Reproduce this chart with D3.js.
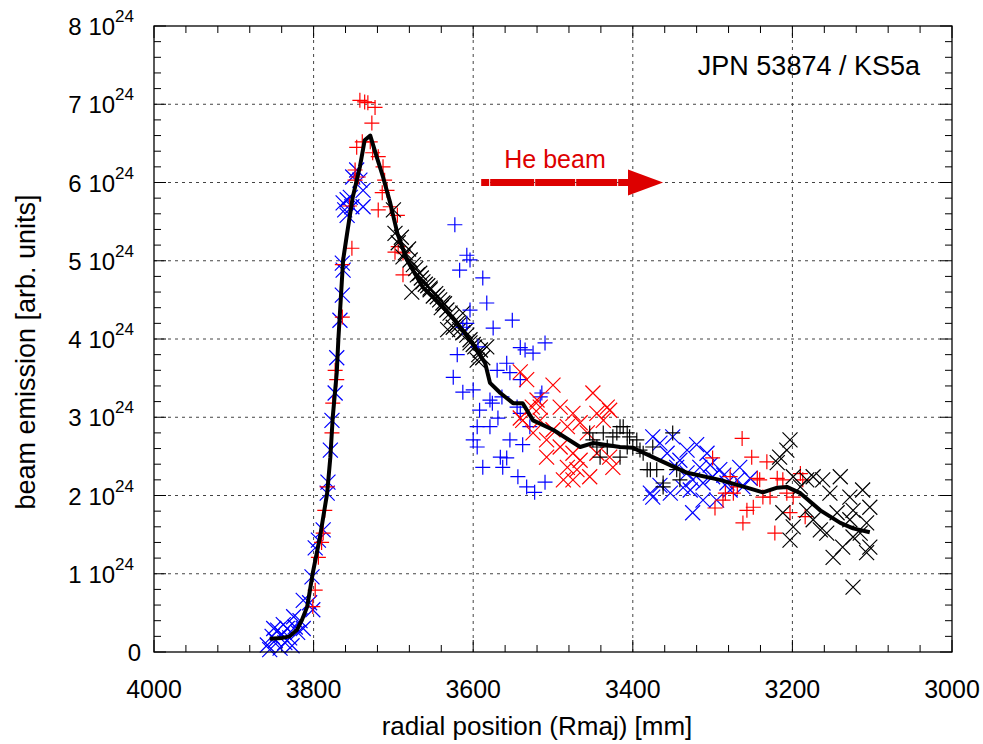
<!DOCTYPE html>
<html>
<head>
<meta charset="utf-8">
<script src="https://cdn.jsdelivr.net/npm/d3@7"></script>
<style>
  body { margin: 0; background: #fff; }
  text { font-family: "Liberation Sans", Arial, sans-serif; fill: #000; }
</style>
</head>
<body>
<script>

// values are [radial position mm, emission in units of 1e24]
const profile = [[3855,0.17],[3840,0.18],[3830,0.20],[3821,0.28],[3815,0.40],[3808,0.58],[3801,1.01],[3792,1.47],
  [3783,2.03],[3779,2.49],[3776,3.00],[3771,3.57],[3769,3.99],[3766,4.50],[3763,5.01],[3758,5.35],[3751,5.81],
  [3742,6.20],[3736,6.54],[3729,6.60],[3721,6.33],[3713,6.07],[3704,5.74],[3695,5.35],[3683,5.01],[3663,4.66],
  [3638,4.41],[3620,4.20],[3604,3.99],[3585,3.69],[3579,3.44],[3566,3.31],[3550,3.18],[3538,3.18],[3525,2.96],
  [3500,2.84],[3466,2.62],[3450,2.67],[3416,2.62],[3400,2.61],[3375,2.49],[3332,2.29],[3291,2.20],[3257,2.10],
  [3237,2.04],[3219,2.10],[3207,2.11],[3190,2.03],[3165,1.81],[3140,1.65],[3124,1.58],[3103,1.53]]

const blueCross = [[3771,3.76],[3773,3.31],[3777,2.96],[3779,2.58],[3782,2.17],[3783,2.03],[3788,1.56],[3794,1.43],
  [3798,1.33],[3802,0.96],[3805,0.63],[3813,0.66],[3801,0.54],
  [3858,0.09],[3855,0.03],[3852,0.20],[3848,0.15],[3845,0.28],[3842,0.05],[3840,0.22],[3836,0.12],[3833,0.30],
  [3830,0.18],[3827,0.08],[3823,0.32],[3820,0.25],[3817,0.40],[3813,0.30],[3850,0.30],[3838,0.35],[3825,0.45],
  [3746,6.16],[3751,6.07],[3742,6.03],[3754,5.81],[3758,5.78],[3763,5.74],[3761,5.65],[3752,5.69],[3738,5.69],
  [3738,5.90],[3758,5.58],[3764,4.97],[3763,4.88],[3764,4.56],[3767,4.24],
  [3375,2.75],[3366,2.67],[3357,2.54],[3375,1.98],[3353,2.03],[3345,2.36],[3332,2.58],[3332,2.29],[3325,2.20],
  [3328,2.07],[3325,1.78],[3316,2.36],[3307,2.54],[3312,2.16],[3300,2.24],[3291,2.33],[3282,2.16],[3278,2.07],
  [3269,2.20],[3266,2.36],[3262,2.11],[3295,1.94],[3312,1.94],[3350,2.75],[3378,2.03],[3366,2.13],[3341,2.45],
  [3303,2.39],[3286,2.26],[3253,2.22],[3337,2.10],[3320,2.65]]

const redPlus = [[3771,3.48],[3776,3.18],[3777,2.80],[3783,2.11],[3786,1.81],[3788,1.52],[3794,1.21],[3798,0.79],
  [3801,0.58],[3790,1.40],[3773,3.60],
  [3764,4.28],[3764,4.95],[3752,5.16],[3748,6.16],[3744,6.07],[3748,6.03],[3739,6.52],[3746,6.45],[3729,6.52],
  [3727,6.76],[3736,7.03],[3732,7.02],[3723,6.96],[3742,7.05],[3726,6.38],[3719,6.33],[3713,6.20],[3711,6.03],
  [3708,5.90],[3714,5.87],[3719,5.65],[3704,5.69],[3695,5.58],[3694,5.18],[3698,5.11],[3688,5.10],[3688,4.82],
  [3755,5.70],
  [3300,2.48],[3263,2.73],[3251,2.49],[3232,2.43],[3297,1.84],[3287,1.94],[3284,2.03],[3269,2.11],[3262,1.65],
  [3257,1.81],[3249,1.85],[3244,2.22],[3241,2.20],[3237,1.98],[3228,1.98],[3222,1.52],[3219,2.22],[3212,2.20],
  [3207,2.03],[3199,1.98],[3203,1.78],[3187,2.20],[3184,1.73],[3190,2.28],[3278,2.24],[3274,2.03]]

const blackCross = [[3700,5.65],[3698,5.35],[3694,5.23],[3688,5.05],[3679,5.01],[3670,4.82],[3677,4.60],[3663,4.73],
  [3654,4.65],[3645,4.54],[3638,4.46],[3629,4.33],[3620,4.20],[3613,4.08],[3604,3.99],[3632,4.12],[3613,4.33],
  [3667,4.84],[3654,4.63],[3642,4.50],[3633,4.37],[3625,4.15],[3617,4.12],[3604,3.95],[3591,3.86],[3583,3.90],
  [3588,3.76],[3595,3.73],[3660,4.70],[3650,4.55],[3640,4.40],[3685,5.10],[3675,4.95],[3608,4.05],[3598,3.90],
  [3690,5.30],[3681,5.15],[3672,4.90],[3665,4.78],[3657,4.68],[3647,4.58],[3636,4.45],[3627,4.28],[3618,4.18],
  [3610,4.10],[3600,3.93],[3593,3.80],
  [3203,2.71],[3207,2.58],[3216,2.49],[3219,2.42],[3199,2.24],[3190,2.11],[3182,2.20],[3174,2.24],[3162,2.20],
  [3153,2.03],[3140,2.24],[3128,1.98],[3124,1.81],[3112,2.07],[3103,1.85],[3107,1.65],[3115,1.52],[3124,1.47],
  [3103,1.34],[3107,1.27],[3149,1.21],[3157,1.52],[3165,1.56],[3174,1.69],[3182,1.81],[3199,1.60],[3203,1.43],
  [3212,1.78],[3144,1.78],[3128,1.69],[3124,0.83],[3137,1.34]]

const bluePlus = [[3623,5.46],[3608,5.07],[3604,5.01],[3617,4.88],[3588,4.78],[3583,4.46],[3604,4.37],[3551,4.24],
  [3575,4.14],[3541,3.89],[3535,3.86],[3525,3.82],[3510,3.95],[3613,4.15],[3608,4.20],[3594,3.90],[3625,3.51],
  [3620,3.80],[3570,3.60],[3558,3.69],[3554,3.57],[3541,3.48],[3613,3.32],[3600,3.35],[3579,3.22],[3564,3.26],
  [3592,3.09],[3576,3.18],[3569,2.99],[3545,3.13],[3541,3.05],[3595,2.88],[3579,2.88],[3529,2.88],[3514,3.31],
  [3516,3.26],[3554,2.71],[3600,2.71],[3595,2.62],[3538,2.65],[3566,2.49],[3558,2.48],[3588,2.36],[3544,2.24],
  [3533,2.11],[3523,2.04],[3510,2.17],[3563,2.36]]

const redCross = [[3541,3.58],[3533,3.48],[3500,3.41],[3520,3.22],[3450,3.31],[3432,3.13],[3429,3.09],[3526,3.13],
  [3538,2.96],[3491,3.13],[3475,3.05],[3516,2.96],[3500,2.84],[3482,2.88],[3466,2.93],[3457,2.80],[3525,2.80],
  [3508,2.71],[3491,2.62],[3475,2.54],[3445,2.54],[3429,2.49],[3425,2.36],[3482,2.36],[3470,2.33],[3487,2.20],
  [3475,2.20],[3454,2.24],[3466,2.45],[3508,2.49],[3541,2.99],[3516,3.13],[3437,2.96],[3445,3.05]]

const blackPlus = [[3450,2.71],[3437,2.80],[3445,2.62],[3432,2.62],[3416,2.88],[3407,2.80],[3395,2.71],[3387,2.54],
  [3400,2.62],[3416,2.49],[3378,2.33],[3375,2.62],[3441,2.49],[3454,2.80],[3420,2.80],[3362,2.16],[3425,2.75],
  [3412,2.88],[3404,2.75],[3407,2.62],[3391,2.58],[3382,2.33],[3370,2.33],[3350,2.80],[3345,2.33],[3362,2.11],
  [3341,2.20]]

const xTicks = [4000, 3800, 3600, 3400, 3200, 3000]
const yTicks = [0, 1, 2, 3, 4, 5, 6, 7, 8]
const beamArrow = [[3590, 6.0], [3406, 6.0], [3362, 6.0]]   // tail, head base, tip


const width = 983, height = 744
const mLeft = 154, mRight = 952, mTop = 26, mBottom = 652

const svg = d3.select("body").append("svg")
  .attr("width", width).attr("height", height)

const x = d3.scaleLinear().domain([4000, 3000]).range([mLeft, mRight])
const y = d3.scaleLinear().domain([0, 8]).range([mBottom, mTop])

// grid
const grid = svg.append("g").attr("stroke", "#444").attr("stroke-width", 1).attr("stroke-dasharray", "3,4")
xTicks.slice(1, -1).forEach(t => {
  grid.append("line").attr("x1", x(t)).attr("x2", x(t)).attr("y1", mTop).attr("y2", mBottom)
})
yTicks.slice(1, -1).forEach(t => {
  grid.append("line").attr("x1", mLeft).attr("x2", mRight).attr("y1", y(t)).attr("y2", y(t))
})

// ticks on all four sides, pointing inwards
const ticks = svg.append("g").attr("stroke", "#000").attr("stroke-width", 1)
d3.range(4000, 2999, -40).forEach(t => {
  const len = t % 200 === 0 ? 12 : 7
  ticks.append("line").attr("x1", x(t)).attr("x2", x(t)).attr("y1", mBottom).attr("y2", mBottom - len)
  ticks.append("line").attr("x1", x(t)).attr("x2", x(t)).attr("y1", mTop).attr("y2", mTop + len)
})
d3.range(0, 40.5, 1).forEach(i => {
  const t = i / 5
  const len = i % 5 === 0 ? 12 : 7
  ticks.append("line").attr("x1", mLeft).attr("x2", mLeft + len).attr("y1", y(t)).attr("y2", y(t))
  ticks.append("line").attr("x1", mRight).attr("x2", mRight - len).attr("y1", y(t)).attr("y2", y(t))
})

// markers
function plusPath(d) {
  const p = d3.path(), cx = x(d[0]), cy = y(d[1]), r = 7.5
  p.moveTo(cx - r, cy); p.lineTo(cx + r, cy)
  p.moveTo(cx, cy - r); p.lineTo(cx, cy + r)
  return p.toString()
}
function crossPath(d) {
  const p = d3.path(), cx = x(d[0]), cy = y(d[1]), r = 7.5
  p.moveTo(cx - r, cy - r); p.lineTo(cx + r, cy + r)
  p.moveTo(cx - r, cy + r); p.lineTo(cx + r, cy - r)
  return p.toString()
}
function drawMarks(data, shape, color) {
  svg.append("g").selectAll("path").data(data).join("path")
    .attr("d", shape)
    .attr("fill", "none")
    .attr("stroke", color)
    .attr("stroke-width", 1.2)
}

drawMarks(blueCross, crossPath, "#0000ff")
drawMarks(redPlus, plusPath, "#ff0000")
drawMarks(blackCross, crossPath, "#000")
drawMarks(bluePlus, plusPath, "#0000ff")
drawMarks(redCross, crossPath, "#ff0000")
drawMarks(blackPlus, plusPath, "#000")

// fitted profile
const line = d3.line().x(d => x(d[0])).y(d => y(d[1])).curve(d3.curveLinear)
svg.append("path").datum(profile)
  .attr("d", line)
  .attr("fill", "none")
  .attr("stroke", "#000")
  .attr("stroke-width", 4)
  .attr("stroke-linejoin", "round")

// frame
svg.append("rect").attr("x", mLeft).attr("y", mTop).attr("width", mRight - mLeft).attr("height", mBottom - mTop)
  .attr("fill", "none").attr("stroke", "#000").attr("stroke-width", 1.3)

// tick labels
svg.append("g").selectAll("text").data(xTicks).join("text")
  .attr("x", d => x(d)).attr("y", mBottom + 46)
  .attr("text-anchor", "middle").attr("font-size", 25)
  .text(d => d)

const yl = svg.append("g").selectAll("text").data(yTicks).join("text")
  .attr("x", 134).attr("y", d => y(d) + 9)
  .attr("text-anchor", "end").attr("font-size", 24)
yl.filter(d => d === 0).attr("x", 141).text("0")
yl.filter(d => d > 0).each(function(d) {
  const t = d3.select(this)
  t.append("tspan").text(d + " 10")
  t.append("tspan").attr("dy", -13).attr("font-size", 17).text("24")
})

// axis titles
svg.append("text").attr("x", 537).attr("y", 735).attr("text-anchor", "middle").attr("font-size", 26)
  .text("radial position (Rmaj) [mm]")
svg.append("text").attr("transform", "translate(35,352) rotate(-90)").attr("text-anchor", "middle").attr("font-size", 27)
  .text("beam emission [arb. units]")

svg.append("text").attr("x", 920).attr("y", 75).attr("text-anchor", "end").attr("font-size", 27)
  .text("JPN 53874 / KS5a")

// He beam arrow
const ay = y(beamArrow[0][1])
svg.append("line")
  .attr("x1", x(beamArrow[0][0])).attr("x2", x(beamArrow[1][0]) + 1)
  .attr("y1", ay).attr("y2", ay)
  .attr("stroke", "#dd0000").attr("stroke-width", 7)
  .attr("stroke-dasharray", "8,1,44,1,40,1,41,1,200")
svg.append("path")
  .attr("d", `M${x(beamArrow[1][0])},${ay - 13}L${x(beamArrow[2][0])},${ay}L${x(beamArrow[1][0])},${ay + 13}Z`)
  .attr("fill", "#dd0000")
svg.append("text").attr("x", 555).attr("y", 168).attr("text-anchor", "middle").attr("font-size", 25)
  .style("fill", "#dd0000")
  .text("He beam")

</script>
</body>
</html>
